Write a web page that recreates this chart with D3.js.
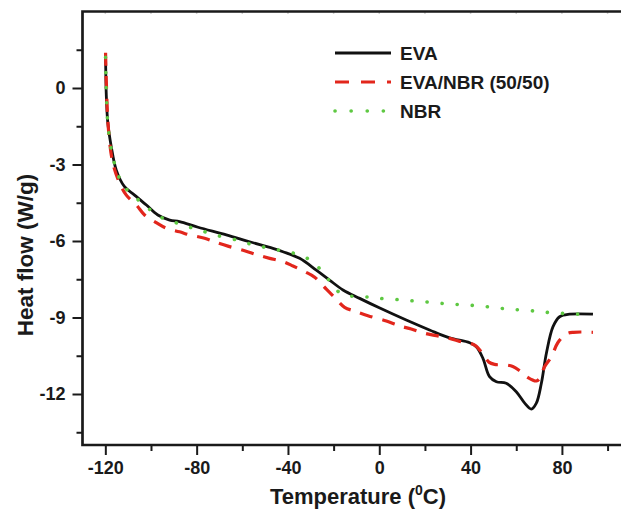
<!DOCTYPE html>
<html>
<head>
<meta charset="utf-8">
<script src="https://cdn.jsdelivr.net/npm/d3@7/dist/d3.min.js"></script>
<style>
  html, body { margin: 0; padding: 0; background: #fff; }
  svg { display: block; }
  text { font-family: "Liberation Sans", Arial, Helvetica, sans-serif; font-weight: bold; fill: #1a1a1a; }
</style>
</head>
<body>
<svg id="chart" width="621" height="509"></svg>
<script>
// DSC heat-flow traces (temperature in °C, heat flow in W/g)
const evaTemp = [-119.9, -119.75, -119.55, -118.9, -117.4, -115.2, -111.6, -107.2, -102.0, -97.0, -91.8, -87.5, -79.4, -67.0, -56.8, -46.6, -42.2, -34.9, -27.6, -21.8, -15.9, -8.6, 0.0, 11.8, 22.0, 30.8, 39.6, 42.5, 45.4, 48.3, 51.3, 55.6, 60.0, 63.7, 66.6, 68.8, 71.0, 73.2, 76.1, 79.0, 83.4, 93.6];
const evaFlow = [1.36, 0.31, -0.34, -1.38, -2.30, -3.22, -3.87, -4.20, -4.59, -4.98, -5.18, -5.24, -5.46, -5.76, -6.03, -6.29, -6.42, -6.68, -7.14, -7.53, -7.92, -8.25, -8.62, -9.10, -9.49, -9.80, -9.99, -10.15, -10.60, -11.32, -11.52, -11.58, -11.91, -12.36, -12.59, -12.36, -11.58, -10.40, -9.36, -8.97, -8.87, -8.87];

const blendTemp = [-119.9, -119.6, -118.6, -116.7, -113.7, -110.8, -106.4, -102.8, -97.7, -93.3, -87.5, -83.1, -76.5, -72.1, -66.3, -59.0, -53.2, -48.0, -42.2, -37.8, -32.7, -28.3, -23.2, -19.6, -15.2, -10.8, -5.0, 3.1, 8.9, 14.0, 19.9, 25.0, 30.8, 35.9, 41.8, 45.4, 48.0, 50.5, 55.6, 58.5, 61.5, 65.0, 68.8, 70.5, 72.4, 75.4, 78.2, 81.9, 85.0, 93.6];
const blendFlow = [1.38, 0.31, -1.65, -2.95, -3.74, -4.20, -4.59, -4.98, -5.28, -5.50, -5.64, -5.76, -5.89, -6.03, -6.20, -6.38, -6.55, -6.68, -6.81, -6.98, -7.20, -7.42, -7.89, -8.21, -8.60, -8.75, -8.93, -9.14, -9.33, -9.45, -9.62, -9.71, -9.82, -9.95, -10.08, -10.43, -10.75, -10.84, -10.86, -10.92, -11.09, -11.35, -11.49, -11.35, -10.93, -10.54, -9.99, -9.65, -9.58, -9.58];

const nbrTemp = [-119.9, -119.7, -119.4, -118.8, -117.4, -115.2, -112.3, -107.2, -102.0, -97.0, -91.1, -84.8, -78.7, -72.1, -62.6, -56.0, -49.5, -42.9, -36.3, -30.8, -25.8, -21.3, -16.4, -9.6, -2.8, 1.6, 8.5, 15.2, 22.0, 29.1, 35.9, 42.9, 49.8, 56.3, 62.9, 69.9, 73.9, 80.9, 87.8];
const nbrFlow = [1.2, 0.3, -0.6, -1.5, -2.4, -3.2, -3.80, -4.26, -4.65, -5.01, -5.22, -5.41, -5.57, -5.76, -5.96, -6.13, -6.26, -6.38, -6.51, -6.72, -7.11, -7.62, -8.09, -8.18, -8.21, -8.26, -8.30, -8.35, -8.40, -8.46, -8.50, -8.54, -8.60, -8.67, -8.71, -8.76, -8.80, -8.84, -8.87];

const seriesNames = ["EVA", "EVA/NBR (50/50)", "NBR"];
const xTickValues = [-120, -80, -40, 0, 40, 80];
const xMinorValues = [-100, -60, -20, 20, 60, 100];
const yTickValues = [-12, -9, -6, -3, 0];
const yMinorValues = [-13.5, -10.5, -7.5, -4.5, -1.5, 1.5];

const svg = d3.select("#chart");

const x = d3.scaleLinear().domain([-130, 110]).range([82.5, 630.4]);
const y = d3.scaleLinear().domain([-14, 3]).range([445, 11.5]);

// plain hyphen-minus for negative tick labels
const plain = d => String(d);

// axis ticks (outward) and labels
const xAxis = d3.axisBottom(x).tickValues(xTickValues).tickSize(10).tickPadding(6).tickFormat(plain);
const xMinor = d3.axisBottom(x).tickValues(xMinorValues).tickSize(6).tickFormat("");
const yAxis = d3.axisLeft(y).tickValues(yTickValues).tickSize(10).tickPadding(7).tickFormat(plain);
const yMinor = d3.axisLeft(y).tickValues(yMinorValues).tickSize(6).tickFormat("");

function styleAxis(g) {
  g.select(".domain").remove();
  g.selectAll(".tick line").attr("stroke", "#1a1a1a").attr("stroke-width", 2);
  g.selectAll(".tick text").style("font-size", "18px").attr("fill", "#1a1a1a");
}

svg.append("g").attr("transform", `translate(0,${y(-14)})`).call(xAxis).call(styleAxis);
svg.append("g").attr("transform", `translate(0,${y(-14)})`).call(xMinor).call(styleAxis);
svg.append("g").attr("transform", `translate(${x(-130)},0)`).call(yAxis).call(styleAxis);
svg.append("g").attr("transform", `translate(${x(-130)},0)`).call(yMinor).call(styleAxis);

// faint tick marks along the top edge
svg.append("g").selectAll("line")
  .data(xTickValues.concat(xMinorValues))
  .join("line")
  .attr("x1", d => x(d)).attr("x2", d => x(d))
  .attr("y1", y(3)).attr("y2", y(3) + 2.5)
  .attr("stroke", "#d0d0d0").attr("stroke-width", 1.5);

// frame: left, bottom and top edges
svg.append("path")
  .attr("d", `M${x(110)},${y(3)}H${x(-130)}V${y(-14)}H${x(110)}`)
  .attr("fill", "none").attr("stroke", "#1a1a1a").attr("stroke-width", 2.7);

// traces
const line = d3.line().x(d => x(d[0])).y(d => y(d[1])).curve(d3.curveCatmullRom.alpha(0.5));
const pairs = (t, v) => t.map((d, i) => [d, v[i]]);

const styles = [
  { color: "#111111", width: 2.8, dash: null, legendDash: null, cap: "butt" },
  { color: "#e2261c", width: 3.2, dash: "13,10", legendDash: "14,12", cap: "butt" },
  { color: "#5ec842", width: 3.6, dash: "0.1,15", legendDash: "0.1,16", cap: "round" }
];
const data = [pairs(evaTemp, evaFlow), pairs(blendTemp, blendFlow), pairs(nbrTemp, nbrFlow)];

data.forEach((pts, i) => {
  const s = styles[i];
  svg.append("path")
    .attr("d", line(pts))
    .attr("fill", "none")
    .attr("stroke", s.color)
    .attr("stroke-width", s.width)
    .attr("stroke-linecap", s.cap)
    .attr("stroke-linejoin", "round")
    .attr("stroke-dasharray", s.dash);
});

// legend
const legend = svg.append("g");
const legendY = [53, 82, 111];
seriesNames.forEach((name, i) => {
  const s = styles[i];
  legend.append("line")
    .attr("x1", 335).attr("x2", 391)
    .attr("y1", legendY[i]).attr("y2", legendY[i])
    .attr("stroke", s.color)
    .attr("stroke-width", s.width)
    .attr("stroke-linecap", s.cap)
    .attr("stroke-dasharray", s.legendDash);
  legend.append("text")
    .attr("x", 400).attr("y", legendY[i] + 6.5)
    .style("font-size", "19px")
    .text(name);
});

// axis titles
const xt = svg.append("text")
  .attr("x", 358).attr("y", 503.5)
  .attr("text-anchor", "middle")
  .style("font-size", "22px");
xt.append("tspan").text("Temperature (");
xt.append("tspan").attr("dy", -9).style("font-size", "14px").text("0");
xt.append("tspan").attr("dy", 9).text("C)");

svg.append("text")
  .attr("transform", "translate(33,255) rotate(-90)")
  .attr("text-anchor", "middle")
  .style("font-size", "22.5px")
  .text("Heat flow (W/g)");
</script>
</body>
</html>
